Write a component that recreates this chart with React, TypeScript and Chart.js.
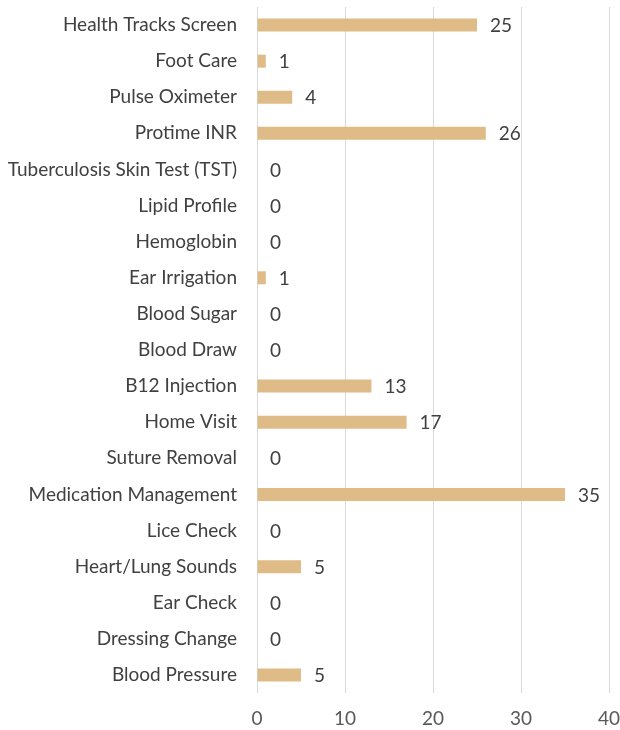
import React, { useEffect, useRef } from "react";
import { Chart, registerables } from "chart.js";

Chart.register(...registerables);

const categories = [
  "Health Tracks Screen",
  "Foot Care",
  "Pulse Oximeter",
  "Protime INR",
  "Tuberculosis Skin Test (TST)",
  "Lipid Profile",
  "Hemoglobin",
  "Ear Irrigation",
  "Blood Sugar",
  "Blood Draw",
  "B12 Injection",
  "Home Visit",
  "Suture Removal",
  "Medication Management",
  "Lice Check",
  "Heart/Lung Sounds",
  "Ear Check",
  "Dressing Change",
  "Blood Pressure",
];
const counts = [25, 1, 4, 26, 0, 0, 0, 1, 0, 0, 13, 17, 0, 35, 0, 5, 0, 0, 5];
const xTicks = [0, 10, 20, 30, 40];

const FONT = "Lato, 'Open Sans', sans-serif";

const valueLabels = {
  id: "valueLabels",
  afterDatasetsDraw(chart: any) {
    const ctx = chart.ctx;
    const meta = chart.getDatasetMeta(0);
    ctx.save();
    ctx.font = `19px ${FONT}`;
    ctx.fillStyle = "#404040";
    ctx.textAlign = "left";
    ctx.textBaseline = "middle";
    meta.data.forEach((bar: any, i: number) => {
      ctx.fillText(String(counts[i]), bar.x + 13, bar.y + 1);
    });
    ctx.restore();
  },
};

export default function App() {
  const ref = useRef<HTMLCanvasElement | null>(null);
  useEffect(() => {
    if (!ref.current) return;
    const chart = new Chart(ref.current, {
      type: "bar",
      data: {
        labels: categories,
        datasets: [
          {
            data: counts,
            backgroundColor: "#DFBB88",
            categoryPercentage: 1,
            barPercentage: 0.36,
          },
        ],
      },
      options: {
        indexAxis: "y",
        animation: false,
        responsive: false,
        maintainAspectRatio: false,
        layout: { padding: { top: 7, right: 11, left: 0, bottom: 0 } },
        plugins: { legend: { display: false }, tooltip: { enabled: false } },
        scales: {
          x: {
            min: xTicks[0],
            max: xTicks[xTicks.length - 1],
            afterBuildTicks: (axis: any) => {
              axis.ticks = xTicks.map((v) => ({ value: v }));
            },
            afterFit: (axis: any) => {
              axis.height = 37;
              axis.paddingLeft = 0;
              axis.paddingRight = 0;
              axis.paddingTop = 0;
              axis.paddingBottom = 0;
            },
            grid: { color: "#D9D9D9", lineWidth: 1, drawTicks: false },
            border: { display: false },
            ticks: {
              padding: 14,
              color: "#595959",
              font: { family: FONT, size: 19 },
            },
          },
          y: {
            afterFit: (axis: any) => {
              axis.width = 257;
              axis.paddingLeft = 0;
              axis.paddingRight = 0;
              axis.paddingTop = 0;
              axis.paddingBottom = 0;
            },
            grid: { display: false, drawTicks: false },
            border: { display: false },
            ticks: {
              padding: 20,
              color: "#404040",
              font: { family: FONT, size: 19 },
            },
          },
        },
      },
      plugins: [valueLabels],
    });
    return () => chart.destroy();
  }, []);
  return (
    <div style={{ position: "absolute", left: 0, top: 0, width: 620, height: 730 }}>
      <canvas ref={ref} width={620} height={730} />
    </div>
  );
}
